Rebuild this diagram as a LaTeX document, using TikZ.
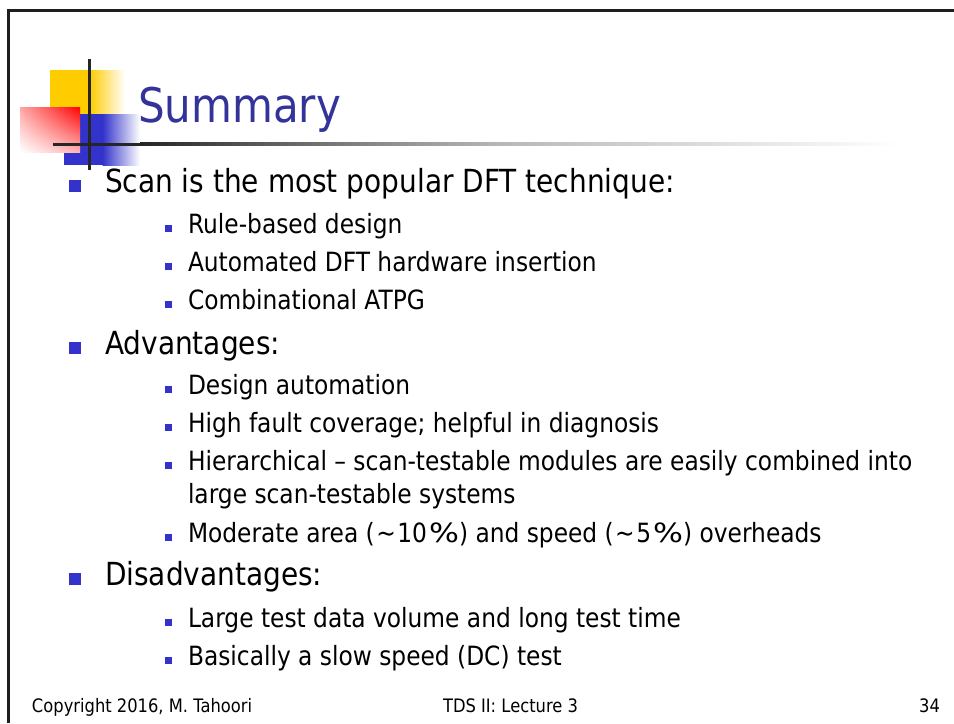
\documentclass[tikz,border=0pt]{standalone}
\usepackage{fontspec}
\usetikzlibrary{shadings}
\setmainfont{DejaVu Sans}[FakeStretch=0.88]
\definecolor{titleblue}{RGB}{51,51,153}
\definecolor{bulblue}{RGB}{51,51,204}
\definecolor{logoyellow}{RGB}{255,204,0}
\definecolor{logoblue}{RGB}{51,51,204}
\definecolor{logored}{RGB}{255,0,0}
\definecolor{framegray}{RGB}{30,30,30}
\newcommand{\mytld}{\makebox[1.15\width]{\textasciitilde}}
\newcommand{\mypct}{\hspace{0.08em}\scalebox{1.35}[1]{\%}}
\tikzset{
  txt/.style={anchor=base west, inner sep=0pt, outer sep=0pt},
  lvlone/.style={txt, font=\fontsize{24}{28}\selectfont},
  lvltwo/.style={txt, font=\fontsize{20}{24}\selectfont},
  foot/.style={inner sep=0pt, outer sep=0pt, font=\fontsize{14}{16}\selectfont},
  bulone/.style={fill=bulblue, inner sep=0pt, minimum size=8.7pt},
  bultwo/.style={fill=bulblue, inner sep=0pt, minimum size=5.3pt},
}
\begin{document}
\begin{tikzpicture}[x=0.7547pt,y=-0.7547pt]
\useasboundingbox (0,0) rectangle (954,723);
% frame
\draw[framegray, line width=2.3pt] (8.7,723) -- (8.7,10.5) -- (954,10.5);
% logo
\fill[logoyellow] (50,70) rectangle (90,115);
\shade[left color=logoyellow, right color=white] (89.5,70) rectangle (125,115);
\fill[logoblue] (64,114) rectangle (103,165);
\shade[left color=logoblue, right color=white] (102.5,114) rectangle (140,165);
\shade[upper right=logored, upper left=logored!35, lower left=white, lower right=logored!30] (20,107) rectangle (80,152);
% horizontal rule
\fill[black!85] (53,142.5) rectangle (140.5,145.5);
\shade[left color=black!85, right color=black!50] (140,142.5) rectangle (350.5,145.5);
\shade[left color=black!50, right color=black!28] (350,142.5) rectangle (500.5,145.5);
\shade[left color=black!28, right color=white] (500,142.5) rectangle (900,145.5);
% vertical rule
\fill[black!85] (88,59) rectangle (91,170);
% title
\node[txt, text=titleblue, font=\fontsize{36}{40}\selectfont] (title) at (138,122) {Summary};
% level 1
\node[bulone] (b1) at (75,186) {};
\node[lvlone] (t1) at (105,192) {Scan is the most popular DFT technique:};
\node[bultwo] (b11) at (168.5,228.5) {};
\node[lvltwo] (t11) at (188,233) {Rule-based design};
\node[bultwo] (b12) at (168.5,266.5) {};
\node[lvltwo] (t12) at (188,271) {Automated DFT hardware insertion};
\node[bultwo] (b13) at (168.5,304.5) {};
\node[lvltwo] (t13) at (188,309) {Combinational ATPG};
\node[bulone] (b2) at (75,348) {};
\node[lvlone] (t2) at (105,354) {Advantages:};
\node[bultwo] (b21) at (168.5,389.5) {};
\node[lvltwo] (t21) at (188,394) {Design automation};
\node[bultwo] (b22) at (168.5,427.5) {};
\node[lvltwo] (t22) at (188,432) {High fault coverage; helpful in diagnosis};
\node[bultwo] (b23) at (168.5,465.5) {};
\node[lvltwo] (t23) at (188,470) {Hierarchical – scan-testable modules are easily combined into};
\node[lvltwo] (t23b) at (188,503) {large scan-testable systems};
\node[bultwo] (b24) at (168.5,537.5) {};
\node[lvltwo] (t24) at (188,542) {Moderate area (\mytld 10\mypct) and speed (\mytld 5\mypct) overheads};
\node[bulone] (b3) at (75,579) {};
\node[lvlone] (t3) at (105,585) {Disadvantages:};
\node[bultwo] (b31) at (168.5,622.5) {};
\node[lvltwo] (t31) at (188,627) {Large test data volume and long test time};
\node[bultwo] (b32) at (168.5,660.5) {};
\node[lvltwo] (t32) at (188,665) {Basically a slow speed (DC) test};
% footer
\node[foot, anchor=base west] (f1) at (32,712) {Copyright 2016, M. Tahoori};
\node[foot, anchor=base] (f2) at (510.5,712) {TDS II: Lecture 3};
\node[foot, anchor=base east] (f3) at (940,712) {34};
\end{tikzpicture}
\end{document}
